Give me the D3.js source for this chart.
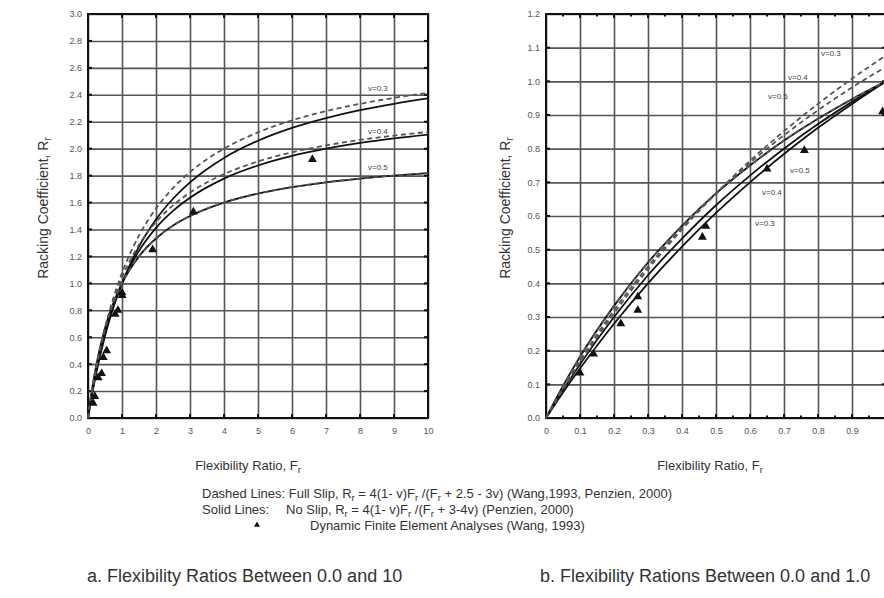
<!DOCTYPE html>
<html>
<head>
<meta charset="utf-8">
<script src="https://cdn.jsdelivr.net/npm/d3@7"></script>
<style>
  body { margin: 0; background: #fff; }
  svg { display: block; font-family: "Liberation Sans", Arial, sans-serif; }
  .tickLabel text { font-size: 9px; fill: #555; }
  .grid line { stroke: #555; stroke-width: 1.6; }
  .axisTitle, .legendText { fill: #333; }
</style>
</head>
<body>
<div class="racking"></div>
<script>
// ---- panel a: flexibility ratio 0 - 10 ----
var leftF = [0, 0.1, 0.25, 0.5, 0.75, 1, 1.5, 2, 2.5, 3, 4, 5, 6, 7, 8, 9, 10]
var leftFull03 = [0, 0.165, 0.378, 0.667, 0.894, 1.077, 1.355, 1.556, 1.707, 1.826, 2.0, 2.121, 2.211, 2.279, 2.333, 2.377, 2.414]
var leftNo03 = [0, 0.147, 0.341, 0.609, 0.824, 1.0, 1.273, 1.474, 1.628, 1.75, 1.931, 2.059, 2.154, 2.227, 2.286, 2.333, 2.373]
var leftFull04 = [0, 0.171, 0.387, 0.667, 0.878, 1.043, 1.286, 1.455, 1.579, 1.674, 1.811, 1.905, 1.973, 2.024, 2.065, 2.097, 2.124]
var leftNo04 = [0, 0.16, 0.364, 0.632, 0.837, 1.0, 1.241, 1.412, 1.538, 1.636, 1.778, 1.875, 1.946, 2.0, 2.043, 2.077, 2.105]
var leftFull05 = [0, 0.182, 0.4, 0.667, 0.857, 1.0, 1.2, 1.333, 1.429, 1.5, 1.6, 1.667, 1.714, 1.75, 1.778, 1.8, 1.818]
var leftNo05 = [0, 0.182, 0.4, 0.667, 0.857, 1.0, 1.2, 1.333, 1.429, 1.5, 1.6, 1.667, 1.714, 1.75, 1.778, 1.8, 1.818]

// finite element results (triangles)
var leftFemF = [0.15, 0.2, 0.3, 0.4, 0.45, 0.55, 0.8, 0.88, 1.0, 1.0, 1.9, 3.1, 6.6]
var leftFemR = [0.11, 0.16, 0.3, 0.33, 0.45, 0.5, 0.77, 0.8, 0.93, 0.91, 1.25, 1.53, 1.92]

var leftXTicks = [0, 1, 2, 3, 4, 5, 6, 7, 8, 9, 10]
var leftYTicks = [0, 0.2, 0.4, 0.6, 0.8, 1.0, 1.2, 1.4, 1.6, 1.8, 2.0, 2.2, 2.4, 2.6, 2.8, 3.0]

// ---- panel b: flexibility ratio 0 - 1 ----
var rightF = [0, 0.05, 0.1, 0.2, 0.3, 0.4, 0.5, 0.6, 0.7, 0.8, 0.9, 1.0]
var rightFull03 = [0, 0.085, 0.165, 0.311, 0.442, 0.56, 0.667, 0.764, 0.852, 0.933, 1.008, 1.077]
var rightNo03 = [0, 0.076, 0.147, 0.28, 0.4, 0.509, 0.609, 0.7, 0.784, 0.862, 0.933, 1.0]
var rightFull04 = [0, 0.089, 0.171, 0.32, 0.45, 0.565, 0.667, 0.758, 0.84, 0.914, 0.982, 1.043]
var rightNo04 = [0, 0.083, 0.16, 0.3, 0.424, 0.533, 0.632, 0.72, 0.8, 0.873, 0.939, 1.0]
var rightFull05 = [0, 0.095, 0.182, 0.333, 0.462, 0.571, 0.667, 0.75, 0.824, 0.889, 0.947, 1.0]
var rightNo05 = [0, 0.095, 0.182, 0.333, 0.462, 0.571, 0.667, 0.75, 0.824, 0.889, 0.947, 1.0]

var rightFemF = [0.1, 0.14, 0.22, 0.27, 0.27, 0.46, 0.47, 0.65, 0.76, 0.99]
var rightFemR = [0.134, 0.19, 0.28, 0.32, 0.36, 0.537, 0.57, 0.74, 0.795, 0.91]

var rightXTicks = [0, 0.1, 0.2, 0.3, 0.4, 0.5, 0.6, 0.7, 0.8, 0.9, 1.0]
var rightXMinor = [0.05, 0.15, 0.25, 0.35, 0.45, 0.55, 0.65, 0.75, 0.85, 0.95]
var rightYTicks = [0, 0.1, 0.2, 0.3, 0.4, 0.5, 0.6, 0.7, 0.8, 0.9, 1.0, 1.1, 1.2]

var nuLabels = ["v=0.3", "v=0.4", "v=0.5"]

var svg = d3.select(".racking")
    .append("svg")
    .attr("width", 884)
    .attr("height", 598)

function drawPanel(opt) {
    var w = opt.width, h = opt.height
    var g = svg.append("g")
        .attr("transform", "translate(" + opt.left + "," + opt.top + ")")

    var x = d3.scaleLinear().domain(opt.xDomain).range([0, w])
    var y = d3.scaleLinear().domain(opt.yDomain).range([h, 0])

    // grid
    g.append("g")
        .attr("class", "grid")
        .attr("transform", "translate(0," + h + ")")
        .call(d3.axisBottom(x).tickValues(opt.xTicks).tickSize(-h).tickFormat(""))
        .call(s => s.select(".domain").remove())
    g.append("g")
        .attr("class", "grid")
        .call(d3.axisLeft(y).tickValues(opt.yTicks).tickSize(-w).tickFormat(""))
        .call(s => s.select(".domain").remove())

    // tick labels
    g.append("g")
        .attr("class", "tickLabel")
        .attr("transform", "translate(0," + h + ")")
        .call(d3.axisBottom(x).tickValues(opt.xTicks).tickSize(0).tickPadding(10).tickFormat(opt.xFormat))
        .call(s => s.select(".domain").remove())
    g.append("g")
        .attr("class", "tickLabel")
        .call(d3.axisLeft(y).tickValues(opt.yTicks).tickSize(0).tickPadding(6).tickFormat(d3.format(".1f")))
        .call(s => s.select(".domain").remove())

    // inward tick marks on the frame
    var tickLen = 4
    var xt = opt.xTicks.concat(opt.xMinor || [])
    g.selectAll(".xtickB").data(xt).join("line")
        .attr("x1", d => x(d)).attr("x2", d => x(d))
        .attr("y1", h).attr("y2", d => h - (opt.xTicks.indexOf(d) >= 0 ? tickLen : 2.5))
        .attr("stroke", "#111").attr("stroke-width", 2)
    g.selectAll(".xtickT").data(xt).join("line")
        .attr("x1", d => x(d)).attr("x2", d => x(d))
        .attr("y1", 0).attr("y2", d => (opt.xTicks.indexOf(d) >= 0 ? tickLen : 2.5))
        .attr("stroke", "#111").attr("stroke-width", 2)
    g.selectAll(".ytickL").data(opt.yTicks).join("line")
        .attr("x1", 0).attr("x2", tickLen)
        .attr("y1", d => y(d)).attr("y2", d => y(d))
        .attr("stroke", "#111").attr("stroke-width", 2)
    g.selectAll(".ytickR").data(opt.yTicks).join("line")
        .attr("x1", w).attr("x2", w - tickLen)
        .attr("y1", d => y(d)).attr("y2", d => y(d))
        .attr("stroke", "#111").attr("stroke-width", 2)

    // frame
    g.append("rect")
        .attr("width", w).attr("height", h)
        .attr("fill", "none").attr("stroke", "#111").attr("stroke-width", 2)

    // curves
    var line = d3.line()
        .x(d => x(d[0]))
        .y(d => y(d[1]))
        .curve(d3.curveMonotoneX)

    opt.solid.forEach(function (vals) {
        g.append("path")
            .datum(opt.f.map((f, i) => [f, vals[i]]))
            .attr("d", line)
            .attr("fill", "none")
            .attr("stroke", "#111")
            .attr("stroke-width", 1.8)
    })
    opt.dashed.forEach(function (vals) {
        g.append("path")
            .datum(opt.f.map((f, i) => [f, vals[i]]))
            .attr("d", line)
            .attr("fill", "none")
            .attr("stroke", "#555")
            .attr("stroke-width", 1.8)
            .attr("stroke-dasharray", "5,3.5")
    })

    // FE triangles
    g.selectAll(".fem").data(opt.femF).join("path")
        .attr("d", d3.symbol(d3.symbolTriangle).size(34))
        .attr("transform", (d, i) => "translate(" + x(d) + "," + y(opt.femR[i]) + ")")
        .attr("fill", "#111")

    // poisson ratio labels
    opt.labels.forEach(function (l) {
        g.append("text")
            .attr("x", l[0]).attr("y", l[1])
            .style("font-size", "8px")
            .style("fill", "#444")
            .text(l[2])
    })

    // axis titles
    var xt2 = g.append("text")
        .attr("class", "axisTitle")
        .attr("x", opt.xTitleX).attr("y", h + 52)
        .style("font-size", "13px")
        .attr("text-anchor", "middle")
    xt2.append("tspan").text("Flexibility Ratio, F")
    xt2.append("tspan").attr("dy", 3).style("font-size", "9.5px").text("r")

    var yt = g.append("text")
        .attr("class", "axisTitle")
        .attr("transform", "translate(" + opt.yTitleX + "," + (h / 2 - 8) + ") rotate(-90)")
        .style("font-size", "14px")
        .attr("text-anchor", "middle")
    yt.append("tspan").text("Racking Coefficient, R")
    yt.append("tspan").attr("dy", 3).style("font-size", "10px").text("r")
}

drawPanel({
    left: 88, top: 14, width: 340, height: 404,
    xDomain: [0, 10], yDomain: [0, 3],
    xTicks: leftXTicks, yTicks: leftYTicks,
    xFormat: d3.format("d"),
    f: leftF,
    solid: [leftNo03, leftNo04, leftNo05],
    dashed: [leftFull03, leftFull04, leftFull05],
    femF: leftFemF, femR: leftFemR,
    labels: [[280, 77, nuLabels[0]], [280, 120, nuLabels[1]], [280, 156, nuLabels[2]]],
    xTitleX: 160, yTitleX: -40
})

drawPanel({
    left: 546, top: 14, width: 340, height: 404,
    xDomain: [0, 1], yDomain: [0, 1.2],
    xTicks: rightXTicks, xMinor: rightXMinor, yTicks: rightYTicks,
    xFormat: d3.format("~g"),
    f: rightF,
    solid: [rightNo03, rightNo04, rightNo05],
    dashed: [rightFull03, rightFull04, rightFull05],
    femF: rightFemF, femR: rightFemR,
    labels: [[275, 42, nuLabels[0]], [242, 66, nuLabels[1]], [222, 85, nuLabels[2]],
             [244, 159, nuLabels[2]], [216, 181, nuLabels[1]], [209, 212, nuLabels[0]]],
    xTitleX: 164, yTitleX: -36
})

// legend
var legend = svg.append("g").attr("class", "legendText").style("font-size", "13px")

function sub(t, s) {
    t.append("tspan").attr("dy", 3).style("font-size", "9.5px").text(s)
}

var l1 = legend.append("text").attr("x", 202).attr("y", 498)
l1.append("tspan").text("Dashed Lines: Full Slip, R")
sub(l1, "r")
l1.append("tspan").attr("dy", -3).text(" = 4(1- v)F")
sub(l1, "r")
l1.append("tspan").attr("dy", -3).text(" /(F")
sub(l1, "r")
l1.append("tspan").attr("dy", -3).text(" + 2.5 - 3v) (Wang,1993, Penzien, 2000)")

legend.append("text").attr("x", 202).attr("y", 514).text("Solid Lines:")
var l2 = legend.append("text").attr("x", 286).attr("y", 514)
l2.append("tspan").text("No Slip, R")
sub(l2, "r")
l2.append("tspan").attr("dy", -3).text(" = 4(1- v)F")
sub(l2, "r")
l2.append("tspan").attr("dy", -3).text(" /(F")
sub(l2, "r")
l2.append("tspan").attr("dy", -3).text(" + 3-4v) (Penzien, 2000)")

legend.append("path")
    .attr("d", d3.symbol(d3.symbolTriangle).size(16))
    .attr("transform", "translate(257,525)")
    .attr("fill", "#111")
legend.append("text").attr("x", 310).attr("y", 530).text("Dynamic Finite Element Analyses (Wang, 1993)")

// panel captions
svg.append("text").attr("class", "axisTitle")
    .attr("x", 87).attr("y", 582)
    .style("font-size", "18px")
    .text("a. Flexibility Ratios Between 0.0 and 10")
svg.append("text").attr("class", "axisTitle")
    .attr("x", 540).attr("y", 582)
    .style("font-size", "18px")
    .text("b. Flexibility Rations Between 0.0 and 1.0")
</script>
</body>
</html>
